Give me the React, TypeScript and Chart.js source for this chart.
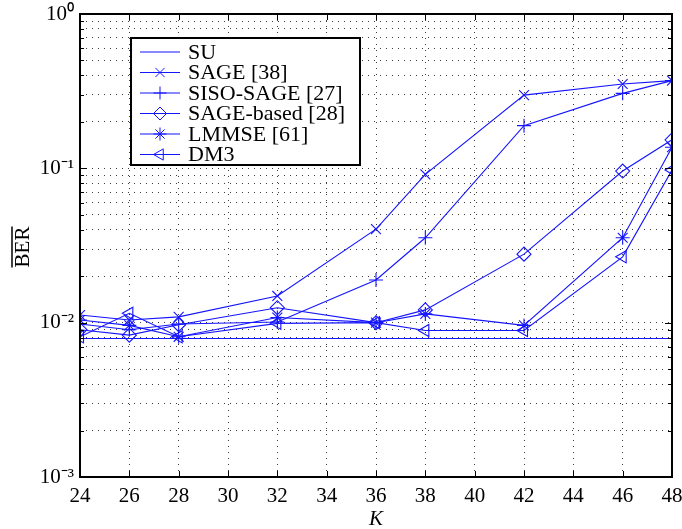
import React, { useEffect, useRef } from "react";
import { Chart, registerables } from "chart.js";
import { drawPoint } from "chart.js/helpers";

Chart.register(...registerables);

const kValues = [24, 26, 28, 32, 36, 38, 42, 46, 48];
const suBER = [0.0079, 0.0079, 0.0079, 0.0079, 0.0079, 0.0079, 0.0079, 0.0079, 0.0079];
const sageBER = [0.0112, 0.0104, 0.0109, 0.0149, 0.0404, 0.0914, 0.298, 0.352, 0.37];
const sisoSageBER = [0.0098, 0.009, 0.0098, 0.0101, 0.0189, 0.0355, 0.189, 0.306, 0.37];
const sageBasedBER = [0.009, 0.0083, 0.0097, 0.0125, 0.01, 0.0121, 0.0278, 0.096, 0.153];
const lmmseBER = [0.0104, 0.0096, 0.0081, 0.0108, 0.01, 0.0114, 0.0096, 0.0355, 0.137];
const dm3BER = [0.0081, 0.0115, 0.0081, 0.0099, 0.01, 0.0089, 0.0089, 0.0267, 0.0975];

const seriesNames = ["SU", "SAGE [38]", "SISO-SAGE [27]", "SAGE-based [28]", "LMMSE [61]", "DM3"];
const xTickValues = [24, 26, 28, 30, 32, 34, 36, 38, 40, 42, 44, 46, 48];
const yMajorTicks = [0.001, 0.01, 0.1, 1];
const yTickLabels = ["10\u207B\u00B3", "10\u207B\u00B2", "10\u207B\u00B9", "10\u2070"];

const FONT = "'Liberation Serif', 'Times New Roman', serif";
const BLUE = "rgb(20,20,255)";

const markerStyles: any[] = [false, "crossRot", "cross", "rectRot", "star", "triangle"];
const markerRot = [0, 0, 0, 0, 0, -90];

function yTickValues(): number[] {
  const out: number[] = [];
  for (let e = -3; e < 0; e++) {
    for (let m = 1; m < 10; m++) out.push(+(m * Math.pow(10, e)).toPrecision(3));
  }
  out.push(1);
  return out;
}

const decorPlugin = {
  id: "decor",
  afterDraw(chart: any) {
    const ctx = chart.ctx as CanvasRenderingContext2D;
    const { left, right, top, bottom } = chart.chartArea;
    const xs = chart.scales.x;
    const ys = chart.scales.y;
    ctx.save();
    ctx.strokeStyle = "#000";
    ctx.lineWidth = 1;
    ctx.beginPath();
    for (const v of xTickValues) {
      const px = Math.round(xs.getPixelForValue(v)) + 0.5;
      ctx.moveTo(px, bottom);
      ctx.lineTo(px, bottom - 6);
      ctx.moveTo(px, top);
      ctx.lineTo(px, top + 6);
    }
    for (const v of yTickValues()) {
      const py = Math.round(ys.getPixelForValue(v)) + 0.5;
      const major = yMajorTicks.some((m) => Math.abs(m - v) < 1e-12);
      const len = major ? 7 : 4;
      ctx.moveTo(left, py);
      ctx.lineTo(left + len, py);
      ctx.moveTo(right, py);
      ctx.lineTo(right - len, py);
    }
    ctx.stroke();
    ctx.lineWidth = 2;
    ctx.strokeRect(left, top, right - left, bottom - top);

    ctx.fillStyle = "#000";
    ctx.font = `21px ${FONT}`;
    ctx.save();
    ctx.translate(29, 247);
    ctx.rotate(-Math.PI / 2);
    ctx.textAlign = "center";
    ctx.textBaseline = "alphabetic";
    ctx.fillText("BER", 0, 0);
    const w = ctx.measureText("BER").width;
    ctx.lineWidth = 1.5;
    ctx.beginPath();
    ctx.moveTo(-w / 2, -17);
    ctx.lineTo(w / 2, -17);
    ctx.stroke();
    ctx.restore();

    ctx.font = `italic 21px ${FONT}`;
    ctx.textAlign = "center";
    ctx.textBaseline = "alphabetic";
    ctx.fillText("K", (left + right) / 2, 525);

    const lx = 131, ly = 38, lw = 229, lh = 127;
    ctx.fillStyle = "#fff";
    ctx.fillRect(lx, ly, lw, lh);
    ctx.lineWidth = 2;
    ctx.strokeStyle = "#000";
    ctx.strokeRect(lx, ly, lw, lh);
    ctx.font = `22px ${FONT}`;
    ctx.textAlign = "left";
    ctx.textBaseline = "middle";
    seriesNames.forEach((name, i) => {
      const cy = 52 + i * 20.5;
      ctx.strokeStyle = BLUE;
      ctx.lineWidth = 1;
      ctx.beginPath();
      ctx.moveTo(140, cy);
      ctx.lineTo(180, cy);
      ctx.stroke();
      if (markerStyles[i]) {
        ctx.fillStyle = "rgba(0,0,0,0)";
        ctx.strokeStyle = BLUE;
        drawPoint(ctx, { pointStyle: markerStyles[i], radius: 6.5, borderWidth: 1, rotation: markerRot[i] } as any, 160, cy);
      }
      ctx.fillStyle = "#000";
      ctx.fillText(name, 188, cy + 1);
    });
    ctx.restore();
  },
};

export default function App() {
  const ref = useRef<HTMLCanvasElement>(null);
  useEffect(() => {
    if (!ref.current) return;
    Chart.defaults.font.family = FONT;
    const seriesData = [suBER, sageBER, sisoSageBER, sageBasedBER, lmmseBER, dm3BER];
    const datasets = seriesData.map((arr, i) => ({
      label: seriesNames[i],
      data: kValues.map((k, j) => ({ x: k, y: arr[j] })),
      showLine: true,
      borderColor: BLUE,
      backgroundColor: "transparent",
      borderWidth: 1.1,
      pointStyle: markerStyles[i] || "circle",
      pointRadius: markerStyles[i] ? 7 : 0,
      pointHoverRadius: markerStyles[i] ? 7 : 0,
      pointRotation: markerRot[i],
      pointBorderColor: BLUE,
      pointBackgroundColor: "transparent",
      pointBorderWidth: 1.1,
    }));
    const chart = new Chart(ref.current, {
      type: "scatter",
      data: { datasets },
      options: {
        animation: false,
        responsive: false,
        maintainAspectRatio: false,
        layout: { padding: { top: 14, right: 10, left: 0, bottom: 0 } },
        plugins: { legend: { display: false }, tooltip: { enabled: false } },
        scales: {
          x: {
            type: "linear",
            min: 24,
            max: 48,
            afterBuildTicks: (axis: any) => {
              axis.ticks = xTickValues.map((v) => ({ value: v }));
            },
            afterFit: (axis: any) => {
              axis.height = 52;
              axis.paddingLeft = 0;
              axis.paddingRight = 0;
            },
            ticks: {
              autoSkip: false,
              maxRotation: 0,
              padding: 7,
              color: "#000",
              font: { size: 21, family: FONT },
              callback: (v: any) => String(v),
            },
            grid: {
              drawTicks: false,
              color: "rgba(40,40,40,0.9)",
              lineWidth: 1,
            },
            border: { display: false, dash: [1, 5] },
          },
          y: {
            type: "logarithmic",
            min: 0.001,
            max: 1,
            afterBuildTicks: (axis: any) => {
              axis.ticks = yTickValues().map((v) => ({ value: v }));
            },
            afterFit: (axis: any) => {
              axis.width = 80;
              axis.paddingTop = 0;
              axis.paddingBottom = 0;
            },
            ticks: {
              autoSkip: false,
              padding: 6,
              color: "#000",
              font: { size: 21, family: FONT },
              callback: (v: any) => {
                const idx = yMajorTicks.findIndex((m) => Math.abs(m - Number(v)) < 1e-12);
                return idx >= 0 ? yTickLabels[idx] : "";
              },
            },
            grid: {
              drawTicks: false,
              color: "rgba(40,40,40,0.9)",
              lineWidth: 1,
            },
            border: { display: false, dash: [1, 5] },
          },
        },
      },
      plugins: [decorPlugin],
    } as any);
    return () => chart.destroy();
  }, []);
  return (
    <div style={{ position: "fixed", left: 0, top: 0, width: 682, height: 529, background: "#fff" }}>
      <canvas ref={ref} width={682} height={529} style={{ width: 682, height: 529 }} />
    </div>
  );
}
